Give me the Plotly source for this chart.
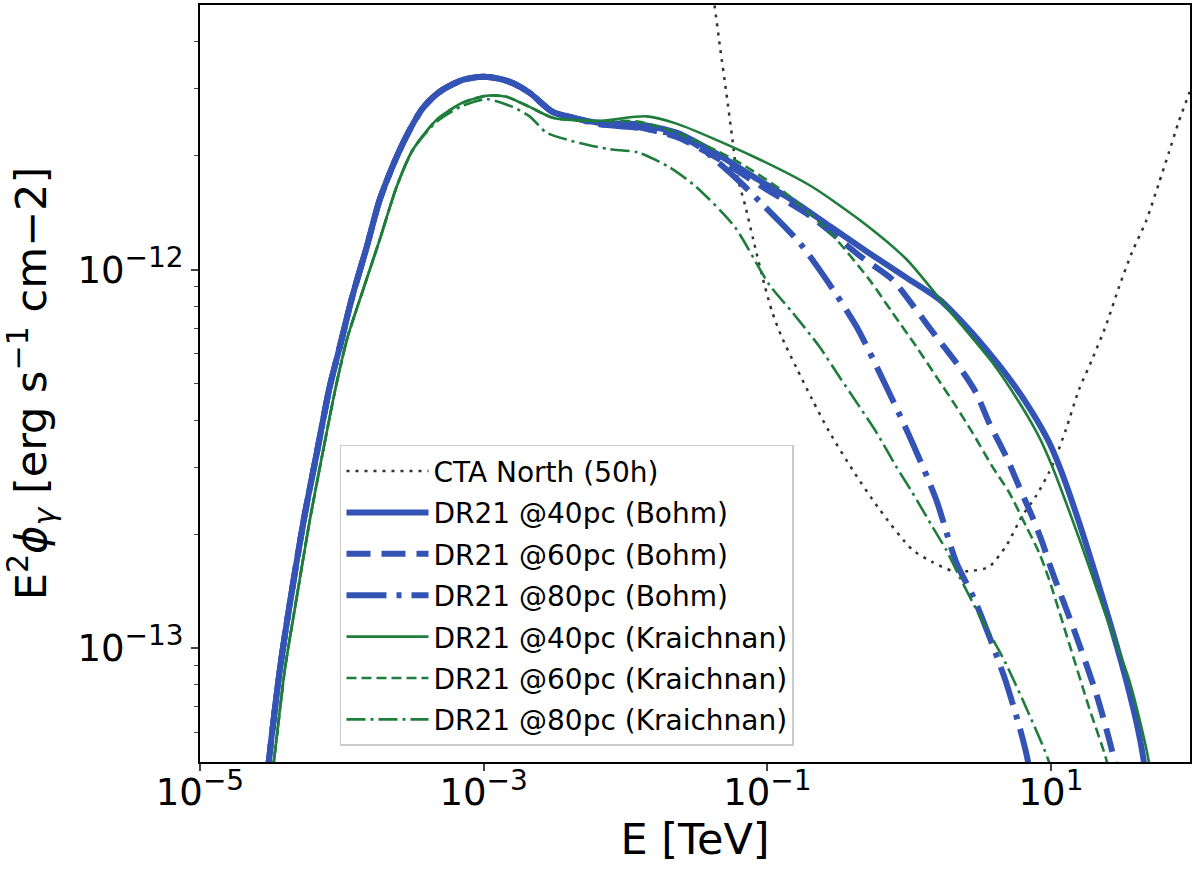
import plotly.graph_objects as go

# CTA North (50h) differential sensitivity
cta_e = [0.0391, 0.0424, 0.0467, 0.0514, 0.0568, 0.0615, 0.0700, 0.0796, 0.0953, 0.108,
         0.126, 0.160, 0.207, 0.274, 0.410, 0.615, 1.05, 1.45, 2.01, 2.78, 3.66, 4.82, 6.25,
         7.83, 9.68, 11.0, 12.8, 15.7, 19.5, 24.4, 30.1, 37.2, 46.7, 57.6, 67.8, 79.6, 93.7, 110]
cta_f = [6.19e-12, 5.00e-12, 3.80e-12, 2.93e-12, 2.20e-12, 1.76e-12, 1.47e-12, 1.20e-12,
         9.13e-13, 7.74e-13, 6.65e-13, 5.51e-13, 4.54e-13, 3.72e-13, 2.91e-13, 2.33e-13,
         1.82e-13, 1.69e-13, 1.60e-13, 1.60e-13, 1.64e-13, 1.86e-13, 2.23e-13, 2.52e-13,
         2.91e-13, 3.25e-13, 3.80e-13, 4.80e-13, 5.79e-13, 7.12e-13, 8.97e-13, 1.11e-12,
         1.34e-12, 1.69e-12, 2.04e-12, 2.46e-12, 2.91e-12, 3.45e-12]

# Bohm diffusion: common low-energy part
bohm_rise_e = [2.87e-5, 3.06e-5, 3.66e-5, 4.31e-5, 5.40e-5, 6.67e-5, 8.22e-5, 9.84e-5,
               1.17e-4, 1.50e-4, 1.85e-4, 2.44e-4, 3.01e-4, 3.72e-4, 4.90e-4, 7.11e-4,
               9.84e-4, 1.30e-3, 1.60e-3, 2.11e-3, 3.06e-3, 4.24e-3]
bohm_rise_f = [4.00e-14, 5.04e-14, 8.81e-14, 1.32e-13, 2.19e-13, 3.29e-13, 4.91e-13,
               6.41e-13, 8.34e-13, 1.15e-12, 1.53e-12, 1.99e-12, 2.34e-12, 2.67e-12,
               2.95e-12, 3.17e-12, 3.23e-12, 3.19e-12, 3.11e-12, 2.93e-12, 2.61e-12, 2.52e-12]

bohm40_e = bohm_rise_e + [6.56e-3, 1.22e-2, 2.29e-2, 4.24e-2, 7.96e-2, 0.148, 0.278, 0.514,
                          1.00, 1.63, 2.52, 3.85, 5.31, 7.35, 9.68, 11.7, 15.7, 21.1, 26.9,
                          33.7, 41.0, 45.2, 48.2]
bohm40_f = bohm_rise_f + [2.44e-12, 2.42e-12, 2.30e-12, 2.04e-12, 1.76e-12, 1.53e-12,
                          1.30e-12, 1.11e-12, 9.42e-13, 8.34e-13, 7.08e-13, 5.89e-13,
                          5.04e-13, 4.20e-13, 3.50e-13, 2.96e-13, 2.16e-13, 1.52e-13,
                          1.12e-13, 8.28e-14, 6.11e-14, 5.00e-14, 4.00e-14]

bohm60_e = bohm_rise_e + [6.56e-3, 1.22e-2, 2.29e-2, 4.24e-2, 9.08e-2, 0.204, 0.459, 0.759,
                          1.12, 1.55, 2.25, 2.96, 3.66, 4.82, 5.96, 7.35, 8.65, 10.2, 14.5,
                          21.1, 27.8, 30.6]
bohm60_f = bohm_rise_f + [2.43e-12, 2.38e-12, 2.24e-12, 1.99e-12, 1.66e-12, 1.38e-12,
                          1.08e-12, 9.42e-13, 7.83e-13, 6.65e-13, 5.54e-13, 4.73e-13,
                          3.94e-13, 3.21e-13, 2.67e-13, 2.23e-13, 1.91e-13, 1.59e-13,
                          1.12e-13, 7.46e-14, 5.09e-14, 4.00e-14]

bohm80_e = bohm_rise_e + [6.56e-3, 1.22e-2, 2.29e-2, 3.32e-2, 6.15e-2, 9.53e-2, 0.168, 0.260,
                          0.424, 0.689, 1.05, 1.55, 2.14, 2.87, 3.72, 4.74, 6.05, 6.89, 7.35]
bohm80_f = bohm_rise_f + [2.42e-12, 2.37e-12, 2.27e-12, 2.11e-12, 1.73e-12, 1.47e-12,
                          1.18e-12, 9.42e-13, 7.08e-13, 4.91e-13, 3.50e-13, 2.47e-13,
                          1.69e-13, 1.35e-13, 1.06e-13, 8.28e-14, 6.11e-14, 5.00e-14, 4.00e-14]

# Kraichnan diffusion: common low-energy part
kr_rise_e = [3.06e-5, 3.32e-5, 3.97e-5, 4.74e-5, 5.96e-5, 7.34e-5, 9.08e-5, 1.10e-4,
             1.34e-4, 1.85e-4, 2.44e-4, 3.16e-4]
kr_rise_f = [4.00e-14, 5.04e-14, 8.81e-14, 1.32e-13, 2.19e-13, 3.29e-13, 4.91e-13,
             6.65e-13, 8.34e-13, 1.20e-12, 1.66e-12, 2.07e-12]
kr_peak_e = [4.67e-4, 7.11e-4, 1.05e-3, 1.45e-3, 2.11e-3, 3.06e-3, 6.25e-3]
kr_peak_f = [2.49e-12, 2.76e-12, 2.88e-12, 2.86e-12, 2.69e-12, 2.52e-12, 2.47e-12]

kr40_e = kr_rise_e + kr_peak_e + [1.41e-2, 2.29e-2, 7.96e-2, 0.204, 0.514, 0.968, 1.82, 3.85,
                                  5.96, 8.22, 10.2, 16.5, 24.0, 35.4, 43.7, 49.0, 53.1]
kr40_f = kr_rise_f + kr_peak_f + [2.54e-12, 2.43e-12, 1.99e-12, 1.66e-12, 1.30e-12, 1.06e-12,
                                  7.98e-13, 5.69e-13, 4.46e-13, 3.62e-13, 3.02e-13, 1.86e-13,
                                  1.24e-13, 8.28e-14, 6.11e-14, 5.00e-14, 4.00e-14]

kr60_e = kr_rise_e + kr_peak_e + [1.22e-2, 2.29e-2, 5.86e-2, 0.132, 0.278, 0.522, 0.759, 1.12,
                                  1.55, 2.14, 2.78, 3.85, 5.06, 6.67, 8.22, 9.68, 13.4, 18.5,
                                  24.8, 27.3]
kr60_f = kr_rise_f + kr_peak_f + [2.46e-12, 2.30e-12, 1.95e-12, 1.60e-12, 1.25e-12, 9.42e-13,
                                  7.71e-13, 6.27e-13, 5.22e-13, 4.35e-13, 3.72e-13, 3.02e-13,
                                  2.58e-13, 2.10e-13, 1.79e-13, 1.52e-13, 1.03e-13, 6.98e-14,
                                  5.00e-14, 4.00e-14]

kr80_e = kr_rise_e + [4.67e-4, 7.11e-4, 1.05e-3, 1.60e-3, 2.11e-3, 2.78e-3, 4.74e-3, 7.71e-3,
                      1.22e-2, 2.01e-2, 3.11e-2, 5.86e-2, 0.103, 0.150, 0.232, 0.321, 0.445,
                      0.586, 0.809, 1.05, 1.45, 1.82, 2.25, 3.06, 4.74, 6.89, 9.68, 11.0]
kr80_f = kr_rise_f + [2.46e-12, 2.71e-12, 2.82e-12, 2.69e-12, 2.54e-12, 2.30e-12, 2.16e-12,
                      2.08e-12, 2.04e-12, 1.87e-12, 1.66e-12, 1.30e-12, 9.13e-13, 7.71e-13,
                      6.27e-13, 5.22e-13, 4.35e-13, 3.72e-13, 3.02e-13, 2.58e-13, 2.10e-13,
                      1.82e-13, 1.55e-13, 1.24e-13, 9.19e-14, 6.78e-14, 5.00e-14, 4.00e-14]

# axis ticks
SUP = "<sup><span style='font-size:28px'>{}</span></sup>"
x_ticks = [1e-5, 1e-3, 1e-1, 1e1]
x_ticktext = ["10" + SUP.format("−5"), "10" + SUP.format("−3"),
              "10" + SUP.format("−1"), "10" + SUP.format("1")]
y_ticks = [1e-13, 1e-12]
y_ticktext = ["10" + SUP.format("−13"), "10" + SUP.format("−12")]
y_minor = [6e-14, 7e-14, 8e-14, 9e-14, 2e-13, 3e-13, 4e-13, 5e-13, 6e-13, 7e-13, 8e-13,
           9e-13, 2e-12, 3e-12, 4e-12]

BLUE = "#3354b4"
GREEN = "#1e7d3a"
FONT = "DejaVu Sans"

fig = go.Figure()


def add_line(e, f, name, color, width, dash):
    fig.add_trace(
        go.Scatter(
            x=e,
            y=f,
            mode="lines",
            name=name,
            legendgroup=name,
            line=dict(color=color, width=width, dash=dash, shape="spline", smoothing=0.7),
        )
    )


add_line(cta_e, cta_f, "CTA North (50h)", "#333333", 2.5, "3px,6px")
add_line(bohm40_e, bohm40_f, "DR21 @40pc (Bohm)", BLUE, 6, "solid")
add_line(bohm60_e, bohm60_f, "DR21 @60pc (Bohm)", BLUE, 6, "24px,11px")
add_line(bohm80_e, bohm80_f, "DR21 @80pc (Bohm)", BLUE, 6, "40px,10px,5px,10px")
add_line(kr40_e, kr40_f, "DR21 @40pc (Kraichnan)", GREEN, 2.6, "solid")
add_line(kr60_e, kr60_f, "DR21 @60pc (Kraichnan)", GREEN, 2.6, "10px,5px")
add_line(kr80_e, kr80_f, "DR21 @80pc (Kraichnan)", GREEN, 2.6, "19px,5px,3px,5px")

fig.update_layout(
    width=1200,
    height=871,
    margin=dict(l=200, r=10, t=5, b=109),
    paper_bgcolor="white",
    plot_bgcolor="white",
    font=dict(family=FONT, color="black", size=36),
    legend=dict(
        x=0.1414,
        y=0.419,
        xanchor="left",
        yanchor="top",
        bgcolor="rgba(255,255,255,0.8)",
        bordercolor="#cccccc",
        borderwidth=1.5,
        font=dict(family=FONT, size=28),
        tracegroupgap=2,
        itemwidth=82,
    ),
    showlegend=True,
)

fig.update_xaxes(
    type="log",
    range=[-5, 1.98],
    tickvals=x_ticks,
    ticktext=x_ticktext,
    tickfont=dict(size=37),
    ticks="outside",
    ticklen=7,
    tickwidth=1.6,
    showline=True,
    linewidth=2,
    linecolor="black",
    mirror=True,
    showgrid=False,
    zeroline=False,
    automargin=False,
    title=dict(text="E [TeV]", standoff=2),
)

# pull the x tick labels a bit closer to the axis, as in the original
try:
    fig.update_xaxes(ticklabelstandoff=-10)
except ValueError:
    pass

fig.update_yaxes(
    type="log",
    range=[-13.301, -11.301],
    tickvals=y_ticks,
    ticktext=y_ticktext,
    tickfont=dict(size=37),
    ticks="outside",
    ticklen=7,
    tickwidth=1.6,
    minor=dict(tickvals=y_minor, ticks="outside", ticklen=4, tickwidth=1.2, showgrid=False),
    showline=True,
    linewidth=2,
    linecolor="black",
    mirror=True,
    showgrid=False,
    zeroline=False,
    automargin=False,
    title=dict(
        text="E<sup>2</sup><i>ϕ</i><sub><i>γ</i></sub> [erg s<sup>−1</sup> cm−2]",
        standoff=18,
    ),
)

fig.write_html(
    "out.html",
    config={"displayModeBar": False},
    post_script="document.body.style.margin = '0';",
)
